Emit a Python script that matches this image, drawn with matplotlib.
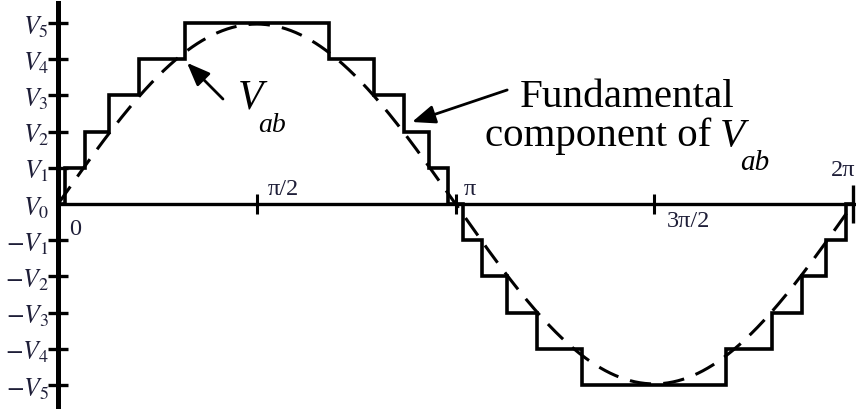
import numpy as np
import matplotlib.pyplot as plt

plt.rcParams['font.family'] = 'Liberation Serif'
plt.rcParams['mathtext.fontset'] = 'stix'

# switching angles of the 5-level staircase (first quarter, degrees)
switch_deg = [3.2, 12.2, 23.1, 36.7, 57.3]
n_levels = 5
fund_amp = 4.97

level_vals = list(range(-5, 6))
level_names = [r'$-V_{\mathit{%d}}$' % k for k in range(5, 0, -1)] + \
              [r'$V_{\mathit{%d}}$' % k for k in range(0, 6)]

angle_ticks = [0, np.pi / 2, np.pi, 3 * np.pi / 2, 2 * np.pi]
angle_names = ['0', 'π/2', 'π', '3π/2', '2π']

# build the stepped waveform from quarter-wave symmetry
th = np.radians(switch_deg)
edges = np.concatenate([[0], th, np.pi - th[::-1], np.pi + th,
                        2 * np.pi - th[::-1], [2 * np.pi]])
up = np.arange(0, n_levels + 1)
half = np.concatenate([up, up[::-1][1:-1]])
values = np.concatenate([half, -half, [0]])

t = np.linspace(0, 2 * np.pi, 800)

fig = plt.figure(figsize=(8.56, 4.10), dpi=100)
ax = fig.add_axes([0, 0, 1, 1])
xmin, xmax = -58 / 397.5 * np.pi, 798 / 397.5 * np.pi
ax.set_xlim(xmin, xmax)
ax.set_ylim(-5.663, 5.663)

ax.stairs(values, edges, baseline=None, color='black', lw=2.6, zorder=3)
ax.plot(t, fund_amp * np.sin(t), color='black', lw=2.2, dashes=(7, 4), zorder=3)

# axes through the origin
for s in ['top', 'right']:
    ax.spines[s].set_visible(False)
ax.spines['left'].set_position(('data', 0))
ax.spines['left'].set_linewidth(3.6)
ax.spines['left'].set_bounds(-5.61, 5.55)
ax.spines['bottom'].set_position(('data', 0))
ax.spines['bottom'].set_linewidth(2.4)
ax.spines['bottom'].set_bounds(0, xmax)

ax.set_yticks(level_vals, level_names)
ax.tick_params(axis='y', direction='inout', length=15, width=2.4, pad=-1,
               labelsize=18.5, labelcolor='#1e1e38')
ax.yaxis.get_major_ticks()[level_vals.index(0)].tick1line.set_visible(False)

ax.set_xticks(angle_ticks[1:4], [''] * 3)
ax.set_xticks([angle_ticks[4]], [''], minor=True)
ax.tick_params(axis='x', which='major', direction='inout', length=15, width=2.2)
ax.tick_params(axis='x', which='minor', direction='inout', length=27, width=2.4)

offsets = [(12, -18), (19.5, 11.5), (10.4, 11.5), (25, -12), (-7, 24.5)]
for val, name, off in zip(angle_ticks, angle_names, offsets):
    ax.annotate(name, xy=(val, 0), xytext=off, textcoords='offset points',
                ha='center', va='center', fontsize=17.5, color='#1e1e38')

arrow_style = dict(arrowstyle='-|>,head_length=0.7,head_width=0.28',
                   lw=2, color='black', shrinkA=0, shrinkB=0, mutation_scale=20)

# label of the stepped waveform
ax.text(0.4530 * np.pi, 2.652, 'V', fontsize=30, style='italic', va='baseline')
ax.text(0.5031 * np.pi, 2.017, 'ab', fontsize=20, style='italic', va='baseline')
ax.annotate('', xy=(0.3245 * np.pi, 3.9), xytext=(0.415 * np.pi, 2.90),
            arrowprops=arrow_style)

# label of the fundamental
ax.text(1.4315 * np.pi, 2.71, 'Fundamental', ha='center', va='baseline',
        fontsize=29.5)
ax.text(1.074 * np.pi, 1.63, 'component of', ha='left', va='baseline',
        fontsize=29.5)
ax.text(1.6654 * np.pi, 1.63, 'V', fontsize=29.5, style='italic', va='baseline')
ax.text(1.7157 * np.pi, 0.967, 'ab', fontsize=21, style='italic', va='baseline')
ax.annotate('', xy=(0.8906 * np.pi, 2.265), xytext=(1.13 * np.pi, 3.15),
            arrowprops=arrow_style)

fig.savefig('out.png', dpi=100)
